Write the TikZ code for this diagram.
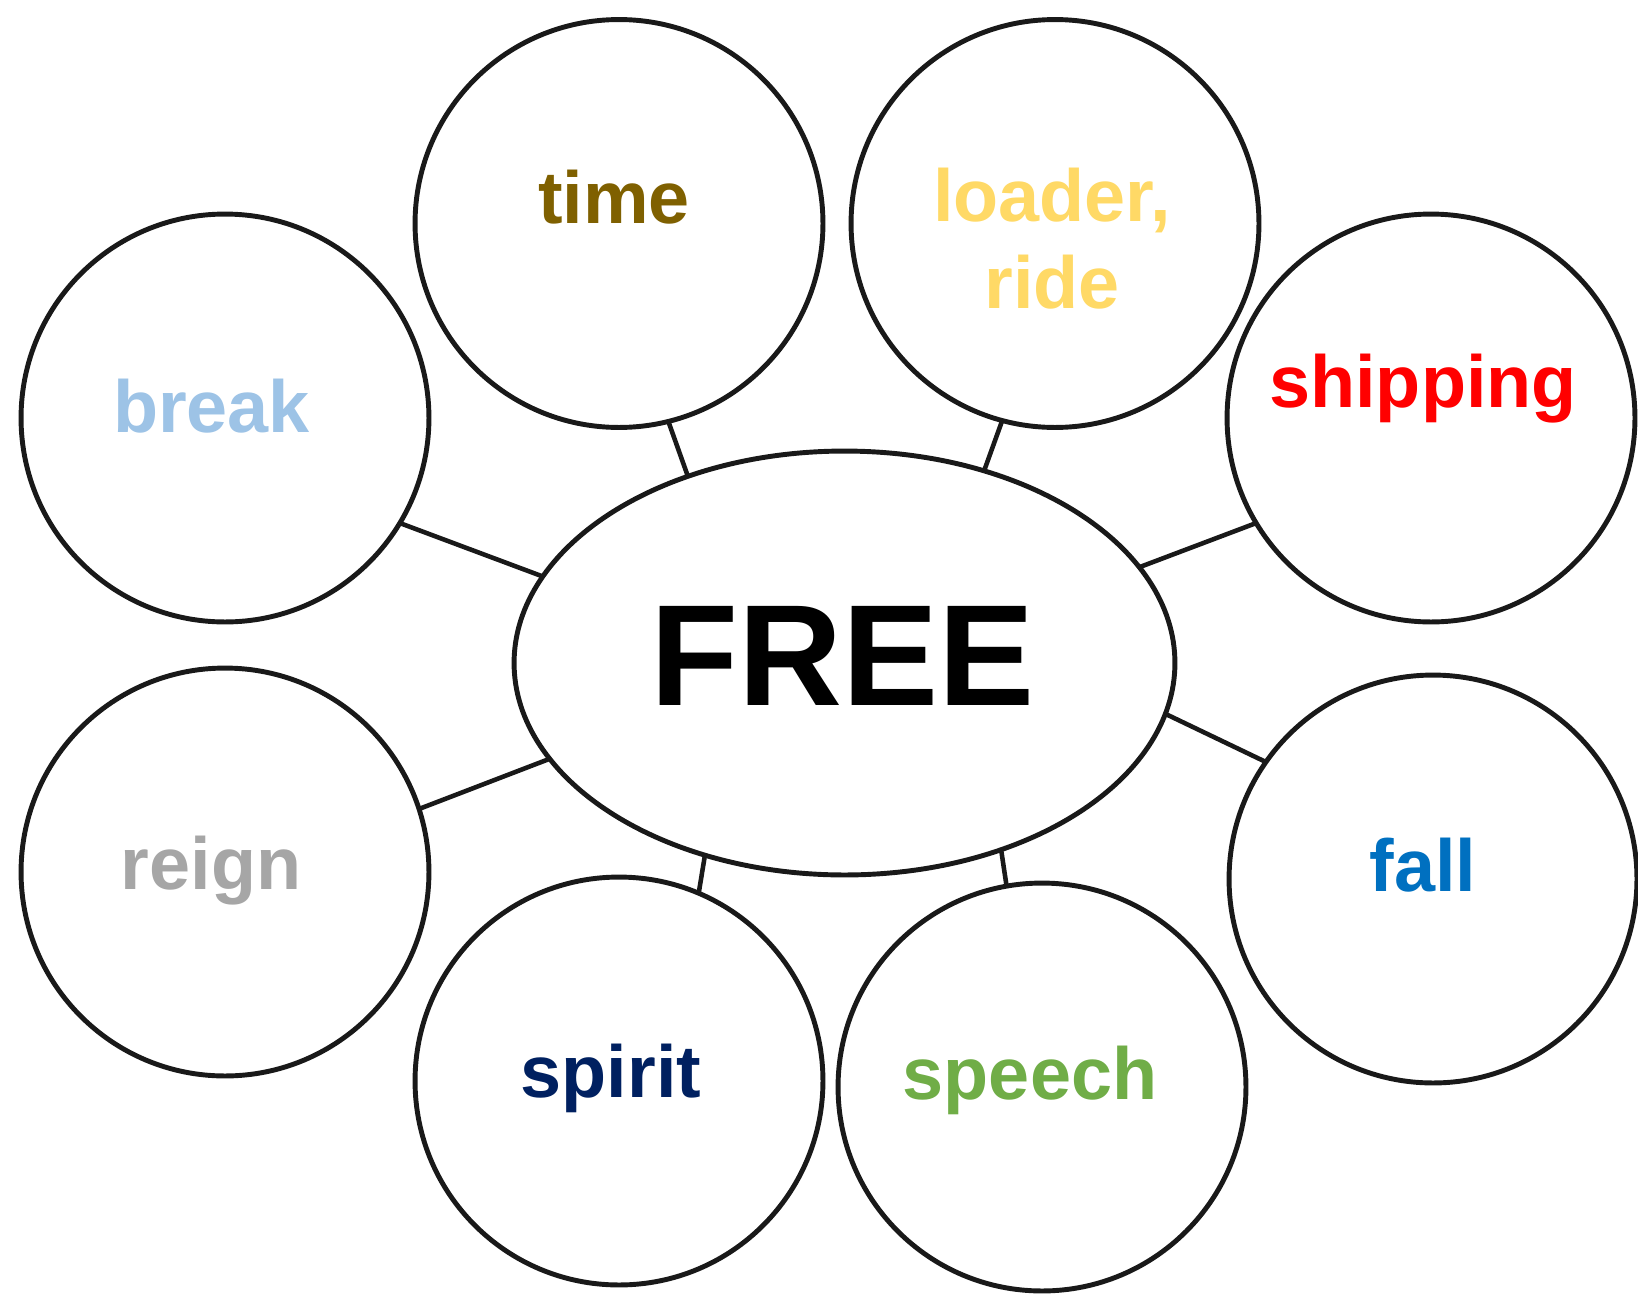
\documentclass[tikz,border=0pt]{standalone}
\usepackage{fontspec}
\setmainfont{Liberation Sans}
\usetikzlibrary{shapes.geometric}
\definecolor{ctime}{HTML}{7F6000}
\definecolor{cloader}{HTML}{FFD966}
\definecolor{cbreak}{HTML}{9DC3E6}
\definecolor{cship}{HTML}{FF0000}
\definecolor{creign}{HTML}{A6A6A6}
\definecolor{cfall}{HTML}{0070C0}
\definecolor{cspirit}{HTML}{002060}
\definecolor{cspeech}{HTML}{70AD47}
\tikzset{
  bubble/.style={circle, draw=black!90, line width=2.8pt, minimum size=8.16cm, inner sep=0pt, outer sep=0pt},
  hub/.style={ellipse, draw=black!90, line width=2.8pt, minimum width=13.22cm, minimum height=8.48cm, inner sep=0pt, outer sep=0pt},
  word/.style={anchor=base, inner sep=0pt, font=\fontsize{42}{49.3}\selectfont\bfseries},
  link/.style={draw=black!90, line width=2.6pt}
}
\begin{document}
\begin{tikzpicture}[x=0.02cm, y=-0.02cm]
\useasboundingbox (0,0) rectangle (1638,1298);
\node[hub] (free) at (844.5,663) {};
\node[bubble] (time) at (619,223.5) {};
\node[bubble] (loader) at (1055,223.5) {};
\node[bubble] (break) at (225,418) {};
\node[bubble] (ship) at (1431,418) {};
\node[bubble] (reign) at (225,872) {};
\node[bubble] (fall) at (1433,879) {};
\node[bubble] (spirit) at (619,1081) {};
\node[bubble] (speech) at (1042,1087) {};
\draw[link] (time.-76) -- (free.130);
\draw[link] (loader.255.6) -- (free.54.5);
\draw[link] (break.-31) -- (free.164.7);
\draw[link] (ship.211.4) -- (free.18);
\draw[link] (reign.18.9) -- (free.198.7);
\draw[link] (fall.145.9) -- (free.-9.6);
\draw[link] (spirit.67.8) -- (free.234.8);
\draw[link] (speech.100.4) -- (free.-50);
\node[word, text=ctime] (ttime) at (614,223.5) {time};
\node[word, text=cloader] (tload1) at (1052,221.5) {loader,};
\node[word, text=cloader] (tload2) at (1052,308) {ride};
\node[word, text=cbreak] (tbreak) at (211.5,432) {break};
\node[word, text=cship] (tship) at (1423,407.5) {shipping};
\node[word, text=creign] (treign) at (211,889) {reign};
\node[word, text=cfall] (tfall) at (1423,891) {fall};
\node[word, text=cspirit] (tspirit) at (611,1097.5) {spirit};
\node[word, text=cspeech] (tspeech) at (1030,1099) {speech};
\node[anchor=base, inner sep=0pt, font=\fontsize{82}{90}\selectfont\bfseries] (tfree) at (842.5,705) {FREE};
\end{tikzpicture}
\end{document}
